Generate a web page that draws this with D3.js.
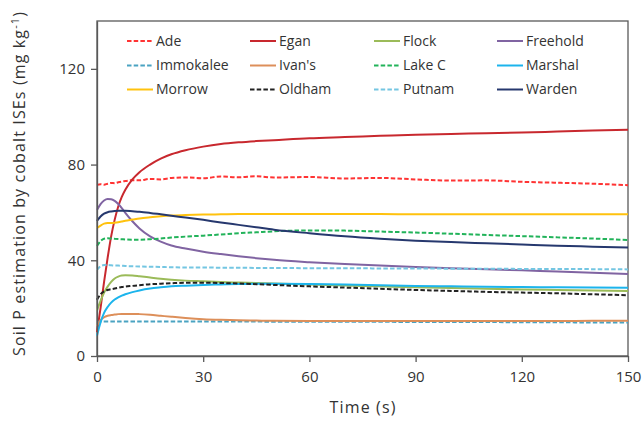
<!DOCTYPE html>
<html><head><meta charset="utf-8">
<script src="https://cdn.jsdelivr.net/npm/d3@7"></script>
<style>body{margin:0;background:#fff;} svg{display:block;}</style>
</head><body>
<svg id="chart" width="644" height="427"></svg>
<script>
const times = [0,1,2,3,4,5,6,7,8,10,12,15,18,21,25,30,35,40,45,50,60,70,80,90,100,110,120,130,140,150];
const seriesNames = ["Ade","Egan","Flock","Freehold","Immokalee","Ivan's","Lake C","Marshal","Morrow","Oldham","Putnam","Warden"];
const ade = [71.5,71.8,71.6,72,72.3,72.2,72.6,72.9,73.1,73.5,73.4,74,73.8,74.4,74.6,74.3,75,74.7,75.1,74.6,74.8,74.2,74.4,73.8,73.3,73.4,72.8,72.4,72.0,71.4];
const egan = [10,20,31,41,50,57,62.5,66.5,69.5,73.8,76.8,80,82.5,84.3,86,87.5,88.6,89.3,89.8,90.2,91,91.5,92,92.5,92.8,93.1,93.4,93.8,94.2,94.6];
const flock = [19,23,26.5,29,31,32.4,33.2,33.6,33.7,33.6,33.3,32.8,32.3,31.9,31.5,31.2,30.9,30.7,30.5,30.3,29.9,29.5,29.1,28.7,28.4,28.1,27.8,27.6,27.4,27.2];
const freehold = [61,63.5,65,65.6,65.5,64.8,63.5,61.8,59.8,56.3,53.3,50,47.8,46.2,44.9,43.6,42.6,41.7,40.9,40.2,39.2,38.4,37.8,37.2,36.7,36.3,35.8,35.3,34.8,34.3];
const immokalee = [14.3,14.4,14.4,14.4,14.4,14.4,14.4,14.4,14.4,14.4,14.4,14.4,14.4,14.4,14.4,14.4,14.4,14.4,14.4,14.3,14.3,14.3,14.3,14.2,14.2,14.2,14.1,14.1,14.0,14.0];
const ivans = [12.5,15,16.2,16.8,17.1,17.3,17.5,17.6,17.6,17.6,17.5,17.2,16.8,16.4,15.9,15.4,15.1,14.9,14.8,14.7,14.6,14.6,14.6,14.6,14.6,14.6,14.6,14.6,14.7,14.7];
const lakeC = [46,48,49,49.2,49.1,49,48.9,48.8,48.7,48.6,48.6,48.8,49.1,49.5,49.9,50.3,50.8,51.3,51.7,52.1,52.5,52.4,52,51.6,51.1,50.6,50.1,49.6,49.1,48.5];
const marshal = [8.5,14,18,20.5,22.3,23.6,24.5,25.2,25.8,26.7,27.4,28.2,28.7,29.1,29.4,29.7,29.9,30.1,30.2,30.2,30.1,29.9,29.6,29.3,29.1,28.9,28.8,28.7,28.6,28.5];
const morrow = [53.5,54.5,55.3,55.6,55.6,55.7,55.9,56.2,56.5,57,57.5,58,58.4,58.7,58.9,59.1,59.2,59.3,59.3,59.3,59.3,59.3,59.3,59.2,59.2,59.2,59.2,59.2,59.2,59.2];
const oldham = [23.5,25.8,27,27.6,27.9,28.2,28.5,28.8,29,29.3,29.6,30,30.2,30.4,30.6,30.6,30.5,30.3,30.0,29.7,29.1,28.6,28.1,27.6,27.2,26.8,26.5,26.2,25.8,25.4];
const putnam = [36,37.5,38,38,37.9,37.8,37.8,37.7,37.6,37.5,37.4,37.3,37.2,37.1,37.0,37.0,36.9,36.9,36.8,36.8,36.7,36.7,36.6,36.6,36.5,36.5,36.4,36.4,36.3,36.2];
const warden = [56.5,58.3,59.5,60.1,60.4,60.6,60.7,60.7,60.7,60.5,60.3,59.8,59.2,58.6,57.9,56.9,55.8,54.8,53.8,52.8,51.3,50,49,48.2,47.6,47.1,46.6,46.1,45.7,45.3];
const seriesValues = [ade,egan,flock,freehold,immokalee,ivans,lakeC,marshal,morrow,oldham,putnam,warden];
const colors = ["#ff3333","#c8282e","#9bbb59","#8064a2","#4aa3c2","#dd8f5a","#22b35a","#1cb4ec","#ffc20e","#222222","#74c6e2","#26386e"];
const dashed = [true,false,false,false,true,false,true,false,false,true,true,false];
const xTicks = [0,30,60,90,120,150];
const yTicks = [0,40,80,120];

const svg = d3.select("#chart");
const m = {l:97, r:16, t:21, b:71};
const W = 644, H = 427;
const x = d3.scaleLinear().domain([0,150]).range([m.l, W-m.r]);
const y = d3.scaleLinear().domain([0,140]).range([H-m.b, m.t]);
const font = "'Open Sans', 'Noto Sans', sans-serif";
const axisColor = "#595959";

// frame
svg.append("rect").attr("x", m.l).attr("y", m.t).attr("width", W-m.r-m.l).attr("height", H-m.b-m.t)
  .attr("fill","none").attr("stroke", axisColor).attr("stroke-width",1.3);

const line = d3.line().x((d,i)=>x(times[i])).y(d=>y(d)).curve(d3.curveMonotoneX);
const g = svg.append("g");
seriesValues.forEach((vals,i)=>{
  g.append("path").datum(vals).attr("d", line).attr("fill","none")
    .attr("stroke", colors[i]).attr("stroke-width", 2)
    .attr("stroke-dasharray", dashed[i] ? "4.5,2.2" : null);
});

// axes
const xAxis = svg.append("g").attr("transform",`translate(0,${H-m.b})`)
  .call(d3.axisBottom(x).tickValues(xTicks).tickSize(6).tickPadding(9).tickSizeOuter(0));
const yAxis = svg.append("g").attr("transform",`translate(${m.l},0)`)
  .call(d3.axisLeft(y).tickValues(yTicks).tickSize(6).tickPadding(6).tickSizeOuter(0));
[xAxis,yAxis].forEach(a=>{
  a.select(".domain").attr("stroke", axisColor).attr("stroke-width",1.3);
  a.selectAll(".tick line").attr("stroke", axisColor).attr("stroke-width",1.3);
  a.selectAll(".tick text").attr("fill","#333").style("font-family",font).style("font-size","15px");
});

svg.append("text").attr("x",(m.l+W-m.r)/2).attr("y",413).attr("text-anchor","middle")
  .style("font-family",font).style("font-size","16px").attr("fill","#333")
  .attr("textLength",66).attr("lengthAdjust","spacing").text("Time (s)");
svg.append("text").attr("transform",`translate(25,184) rotate(-90)`).attr("text-anchor","middle")
  .style("font-family",font).style("font-size","16px").attr("fill","#333")
  .attr("textLength",344).attr("lengthAdjust","spacing")
  .html('Soil P estimation by cobalt ISEs (mg kg<tspan dy="-6" font-size="11px">-1</tspan><tspan dy="6">)</tspan>');

// legend
const colX = [127,250,374,497];
const rowY = [41,65.5,89.5];
seriesNames.forEach((name,i)=>{
  const cx = colX[i%4], cy = rowY[Math.floor(i/4)];
  svg.append("line").attr("x1",cx).attr("x2",cx+26).attr("y1",cy).attr("y2",cy)
    .attr("stroke",colors[i]).attr("stroke-width",2).attr("stroke-dasharray", dashed[i] ? "4.5,2.2" : null);
  svg.append("text").attr("x",cx+29).attr("y",cy).attr("dy","0.35em")
    .style("font-family",font).style("font-size","14px").attr("fill","#333").text(name);
});
</script>
</body></html>
